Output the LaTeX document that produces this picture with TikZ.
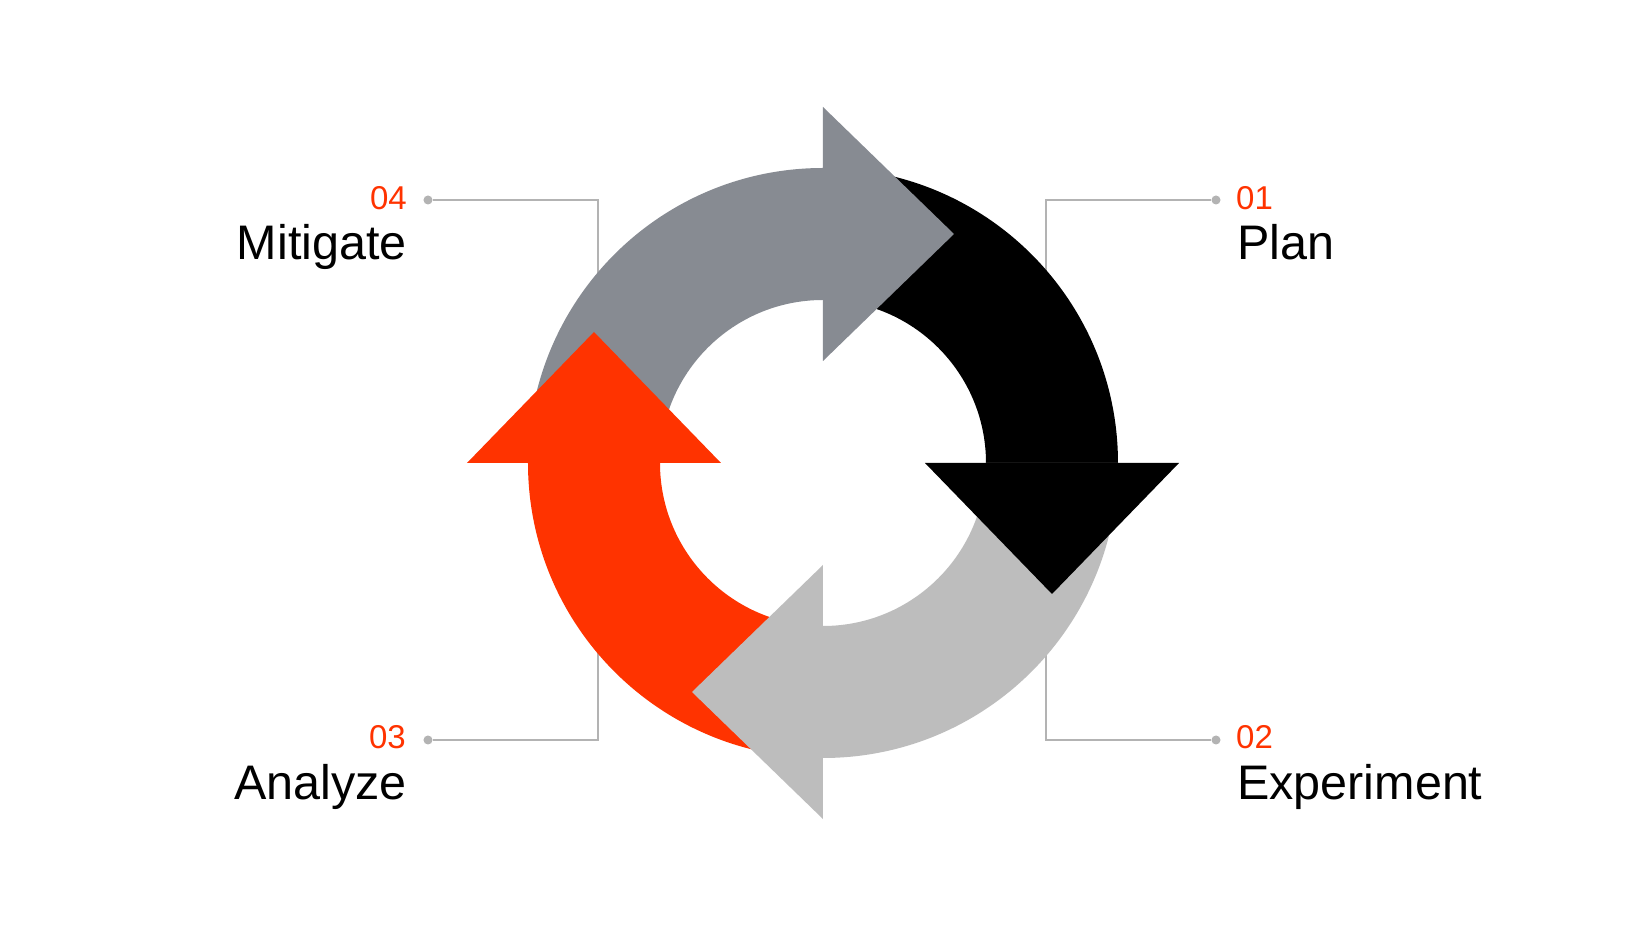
\documentclass[tikz,border=0pt]{standalone}
\usepackage{fontspec}
\setmainfont{Liberation Sans}
\definecolor{cyclered}{HTML}{FF3300}
\definecolor{cycledark}{HTML}{878B92}
\definecolor{cyclelight}{HTML}{BDBDBD}
\definecolor{leadgray}{HTML}{B3B3B3}
\def\band{%
    \fill (0:163pt) -- (0:295pt) arc[start angle=0,end angle=90,radius=295pt] -- (90:163pt) arc[start angle=90,end angle=0,radius=163pt] -- cycle;
}
\def\head{%
    \fill (102pt,0pt) -- (356pt,0pt) -- (229pt,-131pt) -- cycle;
}
\tikzset{
    dot/.style={circle,fill=leadgray,inner sep=0pt,minimum size=9pt},
    lead/.style={draw=leadgray,line width=1.6pt},
    num/.style={inner sep=0pt,text=cyclered,font=\fontsize{33}{35}\selectfont},
    title/.style={inner sep=0pt,text=black,font=\fontsize{48.5}{52}\selectfont}
}
\begin{document}
\begin{tikzpicture}[x=1pt,y=1pt]
\path[use as bounding box,fill=white] (-823,-465) rectangle (821,463);
\node[dot] (d1) at (393,263) {};
\node[dot] (d2) at (393,-277) {};
\node[dot] (d3) at (-395,-277) {};
\node[dot] (d4) at (-395,263) {};
\coordinate (c1) at (223,263);
\coordinate (c2) at (223,-277);
\coordinate (c3) at (-225,-277);
\coordinate (c4) at (-225,263);
\coordinate (e1) at (223,150);
\coordinate (e2) at (223,-150);
\coordinate (e3) at (-225,-150);
\coordinate (e4) at (-225,150);
\foreach \k in {1,2,3,4}
{
	\draw[lead] (d\k) -- (c\k) -- (e\k);
}
\foreach \r / \c in {0/black,90/cycledark,180/cyclered,270/cyclelight}
{
\begin{scope}[rotate=\r,fill=\c]
\band
\end{scope}
}
\foreach \r / \c in {0/black,90/cycledark,180/cyclered,270/cyclelight}
{
\begin{scope}[rotate=\r,fill=\c]
\head
\end{scope}
}
\node[num,anchor=base west] (n1) at (413,253) {01};
\node[title,anchor=base west] (t1) at (414,203) {Plan};
\node[num,anchor=base west] (n2) at (413,-286) {02};
\node[title,anchor=base west] (t2) at (414,-336) {Experiment};
\node[num,anchor=base east] (n3) at (-417,-286) {03};
\node[title,anchor=base east] (t3) at (-416,-336) {Analyze};
\node[num,anchor=base east] (n4) at (-416,253) {04};
\node[title,anchor=base east] (t4) at (-416,203) {Mitigate};
\end{tikzpicture}
\end{document}
